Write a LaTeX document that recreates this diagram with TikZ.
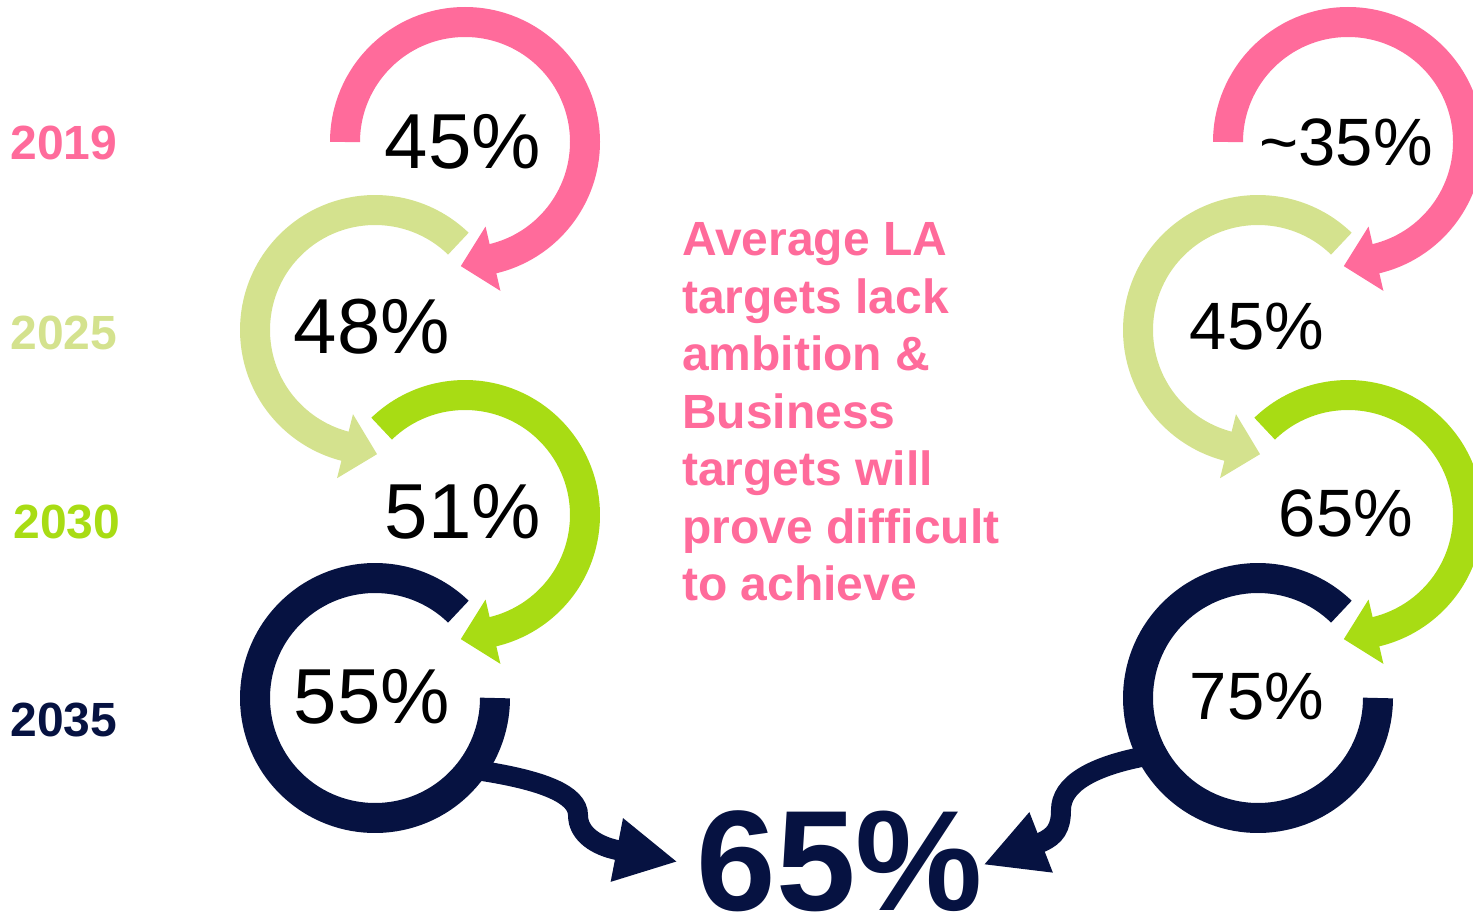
\documentclass[tikz,border=0pt]{standalone}
\usepackage{fontspec}
\setmainfont{Liberation Sans}[Ligatures=NoCommon]
\usetikzlibrary{arrows.meta,calc}
\definecolor{cpink}{HTML}{FF6B9B}
\definecolor{clight}{HTML}{D4E28E}
\definecolor{cbright}{HTML}{A8DC14}
\definecolor{cnavy}{HTML}{061241}
% #1 colour, #2 centre, #3 start angle, #4 end angle, #5 direction of the tip
\newcommand\ringarrow[5]{%
  \draw[ring,#1] ($(#2)+(#3:120)$) arc[start angle=#3, end angle=#4, radius=120];
  \fill[#1] ($(#2)+(#4:87)+(#5:-1)$) -- ($(#2)+(#4:153)+(#5:-1)$) -- ($(#2)+(#4:120)+(#5:32)$) -- cycle;
}
\begin{document}
\begin{tikzpicture}[x=1pt,y=-1pt,
  ring/.style={line width=30pt},
  pctL/.style={font=\fontsize{78}{80}\selectfont, inner sep=0pt, text=black},
  pctR/.style={font=\fontsize{67}{70}\selectfont, inner sep=0pt, text=black},
  year/.style={font=\bfseries\fontsize{48}{50}\selectfont, inner sep=0pt},
  tail/.style={cnavy, line width=20pt, -{Triangle[width=60pt,length=62pt]}},
]
\useasboundingbox (0,0) rectangle (1473,918);

% circle centres
\coordinate (cL1) at (465,142);
\coordinate (cL2) at (375,330);
\coordinate (cL3) at (465,515);
\coordinate (cL4) at (375,698);
\coordinate (cR1) at (1348,142);
\coordinate (cR2) at (1258,330);
\coordinate (cR3) at (1348,515);
\coordinate (cR4) at (1258,698);

% left column rings
\ringarrow{cpink}{cL1}{180}{437}{167}
\ringarrow{clight}{cL2}{-46}{-256}{14}
\ringarrow{cbright}{cL3}{-134}{77}{167}
\draw[ring,cnavy] ($(cL4)+(-46:120)$) arc[start angle=-46, end angle=-360, radius=120];

% right column rings
\ringarrow{cpink}{cR1}{180}{437}{167}
\ringarrow{clight}{cR2}{-46}{-256}{14}
\ringarrow{cbright}{cR3}{-134}{77}{167}
\draw[ring,cnavy] ($(cR4)+(-46:120)$) arc[start angle=-46, end angle=-360, radius=120];

% years
\node[year, text=cpink] (y1) at (64,143) {2019};
\node[year, text=clight] (y2) at (64,333) {2025};
\node[year, text=cbright] (y3) at (67,522) {2030};
\node[year, text=cnavy] (y4) at (64,720) {2035};

% percentages
\node[pctL] (pL1) at (463,142) {45\%};
\node[pctL] (pL2) at (372,327) {48\%};
\node[pctL] (pL3) at (463,512) {51\%};
\node[pctL] (pL4) at (372,697) {55\%};
\node[pctR] (pR1) at (1346,142) {\textasciitilde35\%};
\node[pctR] (pR2) at (1257,327) {45\%};
\node[pctR] (pR3) at (1346,513) {65\%};
\node[pctR] (pR4) at (1257,697) {75\%};

% message
\node[anchor=north west, inner sep=0pt, align=left, text=cpink,
      font=\bfseries\fontsize{48}{57.5}\selectfont] (msg) at (682,222.5)
  {Average LA\\targets lack\\ambition \&\\Business\\targets will\\prove difficult\\to achieve};

% result
\node[font=\bfseries\fontsize{143}{150}\selectfont, text=cnavy, inner sep=0pt, anchor=base] (big) at (840,910) {65\%};

% tails
\coordinate (tl0) at ($(cL4)+(36:122)$);
\coordinate (tr0) at ($(cR4)+(152:122)$);
\draw[tail] (tl0) .. controls (545,780) and (578,795) .. (578,815)
  .. controls (578,835) and (598,846) .. (617,850) -- ($(big.west)+(-19,1)$);
\draw[tail] (tr0) .. controls (1090,766) and (1061,785) .. (1061,810)
  .. controls (1061,828) and (1055,836) .. (1042,842) -- ($(big.east)+(0,4)$);
\end{tikzpicture}
\end{document}
